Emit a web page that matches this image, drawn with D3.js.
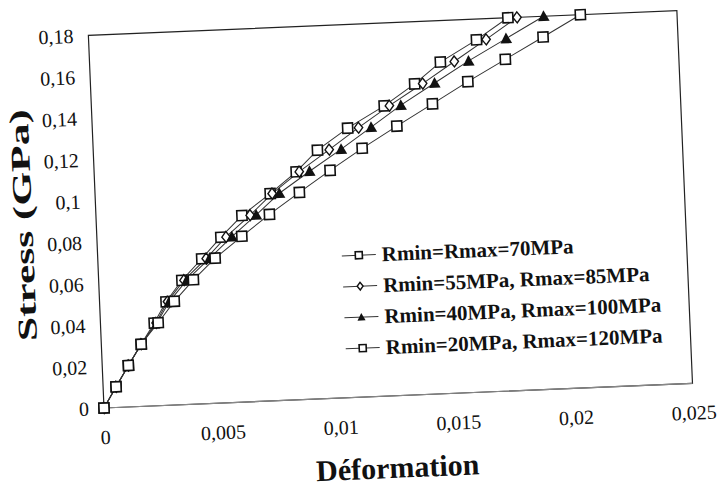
<!DOCTYPE html>
<html>
<head>
<meta charset="utf-8">
<title>Stress - Déformation</title>
<script src="https://cdnjs.cloudflare.com/ajax/libs/d3/7.8.5/d3.min.js"></script>
<style>
  body { margin: 0; background: #fff; }
  svg { display: block; }
  text { font-family: "Liberation Serif", "DejaVu Serif", serif; fill: #111; }
</style>
</head>
<body>
<script>
// strain values (x), one array per curve
const stress = [0, 0.01, 0.02, 0.03, 0.04, 0.05, 0.06, 0.07, 0.08, 0.09, 0.10,
                0.11, 0.12, 0.13, 0.14, 0.15, 0.16, 0.17, 0.18];
const strain70 = [0, 0.00055, 0.00111, 0.00169, 0.00228, 0.00282, 0.00353, 0.00441, 0.00526, 0.00619,
                  0.00743, 0.00857, 0.00951, 0.01083, 0.01242, 0.01375, 0.01488, 0.01645, 0.01782];
const strain55_85 = [0, 0.00055, 0.00111, 0.00169, 0.00236, 0.00288, 0.00362, 0.0046, 0.00548, 0.00654,
                     0.00751, 0.0087, 0.01001, 0.01129, 0.01264, 0.01409, 0.01547, 0.01686, 0.01821];
const strain40_100 = [0, 0.00055, 0.00111, 0.00169, 0.0024, 0.00296, 0.00374, 0.00474, 0.00573, 0.0068,
                      0.00782, 0.00914, 0.01052, 0.01183, 0.01313, 0.0146, 0.01608, 0.01771, 0.01934];
const strain20_120 = [0, 0.00055, 0.00111, 0.00169, 0.00245, 0.00317, 0.00402, 0.00498, 0.00615, 0.00736,
                      0.00867, 0.01001, 0.01141, 0.01292, 0.01447, 0.01601, 0.01764, 0.01928, 0.0209];

const seriesNames = ["Rmin=Rmax=70MPa", "Rmin=55MPa, Rmax=85MPa",
                     "Rmin=40MPa, Rmax=100MPa", "Rmin=20MPa, Rmax=120MPa"];
const seriesMarkers = ["square", "diamond", "triangle", "square"];
const xTicks = [0, 0.005, 0.01, 0.015, 0.02, 0.025];
const yTicks = [0, 0.02, 0.04, 0.06, 0.08, 0.1, 0.12, 0.14, 0.16, 0.18];

const series = [strain70, strain55_85, strain40_100, strain20_120].map((xs, i) => ({
  name: seriesNames[i],
  marker: seriesMarkers[i],
  points: xs.map((x, j) => [x, stress[j]])
}));

const width = 725, height = 491;
const plot = { left: 104, top: 35, width: 589, height: 373 };

const svg = d3.select("body").append("svg")
  .attr("width", width)
  .attr("height", height);

// the scan is slightly tilted, so the whole chart is turned round the origin
const g = svg.append("g")
  .attr("transform", `rotate(-2.4, ${plot.left}, ${plot.top + plot.height})`);

const x = d3.scaleLinear().domain([0, 0.025]).range([plot.left, plot.left + plot.width]);
const y = d3.scaleLinear().domain([0, 0.18]).range([plot.top + plot.height, plot.top]);

const fmt = d => String(d).replace(".", ",");

// plot frame
g.append("rect")
  .attr("x", plot.left).attr("y", plot.top)
  .attr("width", plot.width).attr("height", plot.height)
  .attr("fill", "#fff").attr("stroke", "#222").attr("stroke-width", 1.2);
g.append("line")
  .attr("x1", plot.left).attr("x2", plot.left + plot.width)
  .attr("y1", y(0)).attr("y2", y(0))
  .attr("stroke", "#888").attr("stroke-width", 1.2);

// axes, tick labels only
const yAxis = g.append("g")
  .attr("transform", `translate(${plot.left - 15},0)`)
  .call(d3.axisLeft(y).tickValues(yTicks).tickFormat(fmt).tickSize(0).tickPadding(0));
const xAxis = g.append("g")
  .attr("transform", `translate(0,${y(0) + 22})`)
  .call(d3.axisBottom(x).tickValues(xTicks).tickFormat(fmt).tickSize(0).tickPadding(0));
[yAxis, xAxis].forEach(a => {
  a.select(".domain").remove();
  a.selectAll("text").attr("font-size", 20).attr("fill", "#111");
});
xAxis.selectAll("text").attr("dy", "0.71em");

// axis titles (the y title is drawn stretched, as in the scan)
g.append("text")
  .attr("transform", "translate(40,222) rotate(-90)")
  .attr("text-anchor", "middle")
  .attr("font-size", 27).attr("font-weight", "bold")
  .attr("textLength", 232).attr("lengthAdjust", "spacingAndGlyphs")
  .text("Stress (GPa)");
g.append("text")
  .attr("x", 395).attr("y", 490)
  .attr("text-anchor", "middle")
  .attr("font-size", 30).attr("font-weight", "bold")
  .text("Déformation");

const line = d3.line().x(d => x(d[0])).y(d => y(d[1]));

function drawMarker(sel, type, k) {
  if (type === "square") {
    sel.append("rect")
      .attr("x", -5 * k).attr("y", -5 * k).attr("width", 10 * k).attr("height", 10 * k)
      .attr("fill", "#fff").attr("stroke", "#111").attr("stroke-width", 1.6);
  } else if (type === "diamond") {
    sel.append("path")
      .attr("d", `M0,${-5.5 * k}L${4.2 * k},0L0,${5.5 * k}L${-4.2 * k},0Z`)
      .attr("fill", "#fff").attr("stroke", "#111").attr("stroke-width", 1.4);
  } else {
    sel.append("path")
      .attr("d", `M0,${-6 * k}L${5.8 * k},${4.8 * k}L${-5.8 * k},${4.8 * k}Z`)
      .attr("fill", "#111");
  }
}

// curves
series.forEach(s => {
  g.append("path")
    .datum(s.points)
    .attr("d", line)
    .attr("fill", "none")
    .attr("stroke", "#333")
    .attr("stroke-width", 1);
});
series.forEach(s => {
  g.selectAll(null)
    .data(s.points)
    .enter().append("g")
      .attr("transform", d => `translate(${x(d[0])},${y(d[1])})`)
      .each(function() { drawMarker(d3.select(this), s.marker, 1); });
});

// legend
const legend = g.append("g").attr("transform", "translate(348,266)");
series.forEach((s, i) => {
  const row = legend.append("g").attr("transform", `translate(0,${i * 31})`);
  row.append("line")
    .attr("x1", 0).attr("x2", 34).attr("y1", 0).attr("y2", 0)
    .attr("stroke", "#333").attr("stroke-width", 1);
  drawMarker(row.append("g").attr("transform", "translate(17,0)"), s.marker, 0.7);
  row.append("text")
    .attr("x", 40).attr("y", 7)
    .attr("font-size", 21).attr("font-weight", "bold")
    .text(s.name);
});
</script>
</body>
</html>
